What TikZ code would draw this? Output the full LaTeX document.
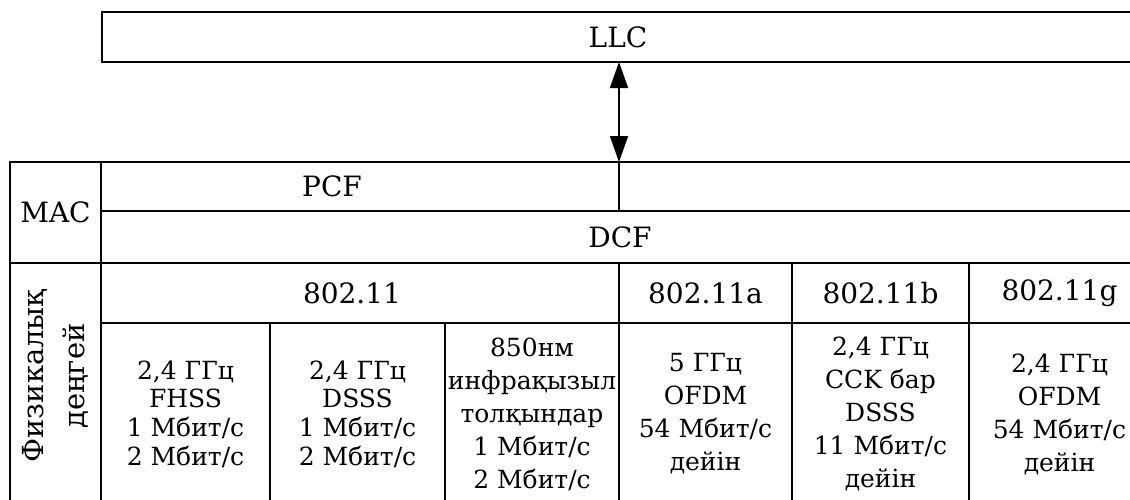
\documentclass[tikz,border=0pt]{standalone}
\usepackage{fontspec}
\setmainfont{DejaVu Serif}
\usepackage{tikz}
\usetikzlibrary{arrows.meta, positioning}
\tikzset{
	cell/.style={draw, rectangle, line width=1.8pt, inner sep=0pt, outer sep=0pt, anchor=north west, align=center}, % one box of the table
	head/.style={font=\fontsize{28}{33}\selectfont}, % layer and standard names
	info/.style={font=\fontsize{25}{33}\selectfont}, % text in the lower boxes
	vert/.style={rotate=90, anchor=center, inner sep=0pt, align=center, font=\fontsize{29}{41}\selectfont}, % text standing on its side
}

\begin{document}
\begin{tikzpicture}[x=1pt, y=-1pt, >={Triangle[length=26pt,width=18pt]}]
	\useasboundingbox (0,0) rectangle (1130,499);
	\clip (0,0) rectangle (1130,499);
	% upper layer
	\node[cell, head, minimum width=1032, minimum height=50] (llc) at (102,12) {LLC};
	% MAC
	\node[cell, head, minimum width=91, minimum height=101] (mac) at (10,162) {MAC};
	\node[cell, minimum width=518, minimum height=49, label={[head, xshift=-28]center:PCF}] (pcf) at (mac.north east) {};
	\node[cell, minimum width=520, minimum height=49] (pcfr) at (pcf.north east) {};
	\node[cell, head, minimum width=1038, minimum height=52] (dcf) at (pcf.south west) {DCF};
	% physical layer
	\node[cell, minimum width=91, minimum height=242] (phy) at (mac.south west) {};
	\node[vert] (phytext) at ([yshift=8]phy.center) {Физикалық\\деңгей};
	\node[cell, minimum width=518, minimum height=60, label={[head, xshift=-8]center:802.11}] (std) at (phy.north east) {};
	\node[cell, head, minimum width=173, minimum height=60] (stda) at (std.north east) {802.11a};
	\node[cell, head, minimum width=177, minimum height=60] (stdb) at (stda.north east) {802.11b};
	\node[cell, head, minimum width=181, minimum height=60] (stdg) at (stdb.north east) {802.11g};
	\node[cell, info, font=\fontsize{25}{28.7}\selectfont, minimum width=169, minimum height=182] (fhss) at (std.south west) {2,4 ГГц\\FHSS\\1 Мбит/с\\2 Мбит/с};
	\node[cell, info, font=\fontsize{25}{28.7}\selectfont, minimum width=175, minimum height=182] (dsss) at (fhss.north east) {2,4 ГГц\\DSSS\\1 Мбит/с\\2 Мбит/с};
	\node[cell, info, minimum width=174, minimum height=182] (ir) at (dsss.north east) {850нм\\инфрақызыл\\толқындар\\1 Мбит/с\\2 Мбит/с};
	\node[cell, info, minimum width=173, minimum height=182] (ofdma) at (ir.north east) {5 ГГц\\OFDM\\54 Мбит/с\\дейін};
	\node[cell, info, minimum width=177, minimum height=182] (cck) at (ofdma.north east) {2,4 ГГц\\CCK бар\\DSSS\\11 Мбит/с\\дейін};
	\node[cell, info, minimum width=181, minimum height=182] (ofdmg) at (cck.north east) {2,4 ГГц\\OFDM\\54 Мбит/с\\дейін};
	% link between LLC and MAC
	\draw[<->, line width=1.8pt] (pcf.north east) -- (pcf.north east |- llc.south);
\end{tikzpicture}
\end{document}
